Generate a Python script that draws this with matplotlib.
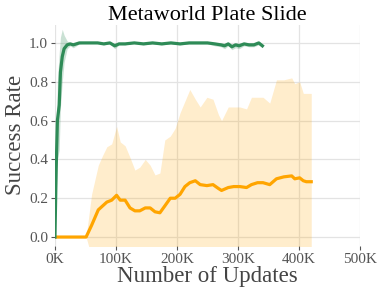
import numpy as np
import matplotlib.pyplot as plt

# values (x in updates)
green_x = [0, 2e3, 4e3, 7e3, 9e3, 12e3, 15e3, 20e3, 25e3, 30e3, 35e3, 40e3, 50e3, 60e3, 70e3,
           80e3, 90e3, 98e3, 105e3, 115e3, 130e3, 145e3, 160e3, 175e3, 190e3, 205e3, 220e3,
           235e3, 250e3, 262e3, 272e3, 278e3, 284e3, 290e3, 296e3, 302e3, 310e3, 318e3,
           326e3, 334e3, 340e3]
green_y = [0.0, 0.35, 0.60, 0.68, 0.85, 0.93, 0.97, 0.99, 0.995, 0.99, 0.995, 1.0, 1.0, 1.0, 1.0,
           0.995, 1.0, 0.985, 0.995, 0.995, 1.0, 0.995, 1.0, 0.995, 1.0, 0.995, 1.0,
           1.0, 1.0, 0.995, 0.99, 0.985, 0.995, 0.98, 0.99, 0.985, 0.995, 0.99,
           0.99, 1.0, 0.985]
green_hi = [0.0, 0.5, 0.8, 0.95, 1.03, 1.07, 1.04, 1.01, 1.0, 1.0, 1.0, 1.0, 1.0, 1.0, 1.0,
            1.0, 1.0, 1.0, 1.0, 1.0, 1.0, 1.0, 1.0, 1.0, 1.0, 1.0, 1.0,
            1.0, 1.0, 1.0, 1.0, 1.0, 1.0, 0.995, 1.0, 1.0, 1.0, 1.0,
            1.0, 1.0, 0.995]
green_lo = [0.0, 0.2, 0.40, 0.45, 0.67, 0.8, 0.9, 0.97, 0.985, 0.975, 0.985, 0.995, 1.0, 1.0, 1.0,
            0.99, 0.995, 0.97, 0.99, 0.99, 1.0, 0.99, 0.995, 0.99, 0.995, 0.99, 0.995,
            0.995, 0.995, 0.985, 0.98, 0.97, 0.985, 0.965, 0.975, 0.97, 0.985, 0.98,
            0.98, 0.99, 0.975]

orange_x = [0, 20e3, 40e3, 51e3, 60e3, 71e3, 78e3, 85e3, 93e3, 101e3, 107e3, 115e3, 123e3,
            131e3, 139e3, 148e3, 156e3, 164e3, 172e3, 180e3, 189e3, 197e3, 205e3, 213e3,
            221e3, 230e3, 238e3, 249e3, 259e3, 268e3, 273e3, 284e3, 293e3, 303e3, 314e3,
            322e3, 332e3, 341e3, 352e3, 363e3, 375e3, 388e3, 393e3, 401e3, 407e3, 412e3,
            420e3]
orange_y = [0.0, 0.0, 0.0, 0.0, 0.06, 0.14, 0.16, 0.18, 0.19, 0.215, 0.19, 0.19, 0.15,
            0.135, 0.135, 0.15, 0.15, 0.13, 0.125, 0.16, 0.2, 0.2, 0.22, 0.26,
            0.28, 0.29, 0.27, 0.265, 0.27, 0.25, 0.24, 0.255, 0.26, 0.26, 0.255,
            0.27, 0.28, 0.28, 0.27, 0.30, 0.31, 0.315, 0.30, 0.305, 0.29, 0.285,
            0.285]
orange_hi = [0.0, 0.0, 0.0, 0.0, 0.22, 0.37, 0.42, 0.465, 0.48, 0.57, 0.49, 0.47, 0.41,
             0.345, 0.36, 0.40, 0.37, 0.32, 0.33, 0.50, 0.52, 0.56, 0.64, 0.70,
             0.76, 0.71, 0.67, 0.72, 0.71, 0.63, 0.60, 0.67, 0.67, 0.67, 0.66,
             0.72, 0.72, 0.72, 0.69, 0.81, 0.81, 0.82, 0.79, 0.80, 0.74, 0.74,
             0.74]
orange_lo = [0.0, 0.0, 0.0, 0.0, -0.1, -0.1, -0.1, -0.1, -0.1, -0.1, -0.1, -0.1, -0.1,
             -0.1, -0.1, -0.1, -0.1, -0.1, -0.1, -0.1, -0.1, -0.1, -0.1, -0.1,
             -0.1, -0.1, -0.1, -0.1, -0.1, -0.1, -0.1, -0.1, -0.1, -0.1, -0.1,
             -0.1, -0.1, -0.1, -0.1, -0.1, -0.1, -0.1, -0.1, -0.1, -0.1, -0.1,
             -0.1]

x_ticks = [0, 100e3, 200e3, 300e3, 400e3, 500e3]
x_tick_labels = ['0K', '100K', '200K', '300K', '400K', '500K']
y_ticks = [0.0, 0.2, 0.4, 0.6, 0.8, 1.0]

GREEN = '#2e8b57'
ORANGE = '#ffa500'

plt.rcParams['font.family'] = ['Liberation Serif', 'DejaVu Serif']

fig = plt.figure(figsize=(3.79, 2.96), dpi=100)
ax = fig.add_axes([0.145, 0.169, 0.805, 0.747])

ax.fill_between(orange_x, orange_lo, orange_hi, color=ORANGE, alpha=0.2, lw=0)
ax.fill_between(green_x, green_lo, green_hi, color=GREEN, alpha=0.25, lw=0)
ax.plot(orange_x, orange_y, color=ORANGE, lw=2.3)
ax.plot(green_x, green_y, color=GREEN, lw=2.3)

ax.set_xlim(0, 500e3)
ax.set_ylim(-0.046, 1.093)
ax.set_xticks(x_ticks)
ax.set_xticklabels(x_tick_labels)
ax.set_yticks(y_ticks)
ax.set_yticklabels([f'{v:.1f}' for v in y_ticks])

ax.grid(True, color='#e3e3e3', lw=0.9)
ax.set_axisbelow(True)
for s in ax.spines.values():
    s.set_visible(False)
ax.tick_params(colors='#555555', labelsize=11, length=3, width=0.8, pad=2)

ax.set_title('Metaworld Plate Slide', fontsize=16, pad=3)
ax.set_xlabel('Number of Updates', fontsize=16.5, color='#444444', labelpad=0)
ax.set_ylabel('Success Rate', fontsize=16.5, color='#444444', labelpad=2)

fig.savefig('out.png', dpi=100)
